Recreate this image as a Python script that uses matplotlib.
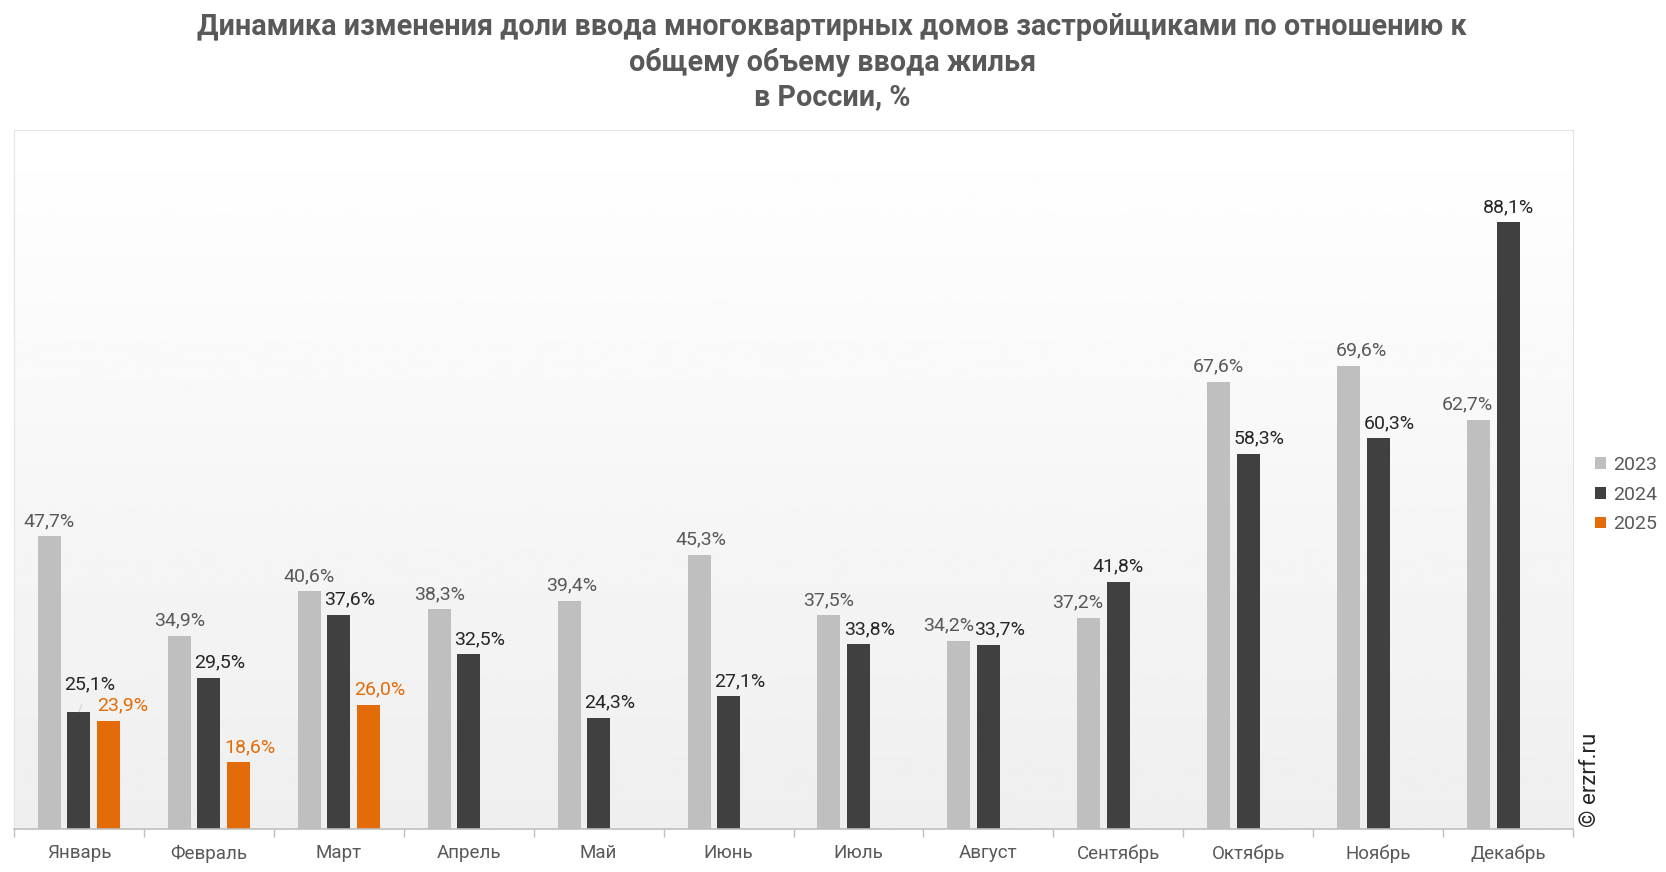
import numpy as np
import matplotlib

matplotlib.use("Agg")
import matplotlib.pyplot as plt

months = ["Январь", "Февраль", "Март", "Апрель", "Май", "Июнь",
          "Июль", "Август", "Сентябрь", "Октябрь", "Ноябрь", "Декабрь"]
share_2023 = [47.7, 34.9, 40.6, 38.3, 39.4, 45.3, 37.5, 34.2, 37.2, 67.6, 69.6, 62.7]
share_2024 = [25.1, 29.5, 37.6, 32.5, 24.3, 27.1, 33.8, 33.7, 41.8, 58.3, 60.3, 88.1]
share_2025 = [23.9, 18.6, 26.0]
years = ["2023", "2024", "2025"]

colors = ["#bfbfbf", "#404040", "#e36c09"]
label_colors = ["#595959", "#262626", "#e36c09"]
# horizontal nudge of data labels (points), as placed in the original
dx_2023 = [0, 0, 0, 0, 2, 1, 0, -7, -8, 0, 9, -8]
dx_2024 = [8, 8, 8, 8, 8, 8, 8, 8, 0, 8, 8, 0]
dx_2025 = [10, 8, 8]

plt.rcParams["font.family"] = ["Roboto", "DejaVu Sans"]

fig = plt.figure(figsize=(16.66, 8.72), dpi=100)
ax = fig.add_axes([0.0084, 0.0493, 0.9358, 0.8016])

# soft vertical gradient in the plot area
grad = np.linspace(1.0, 0.935, 256).reshape(-1, 1)
ax.imshow(grad, cmap="gray", vmin=0, vmax=1, aspect="auto",
          extent=[0, 1, 0, 1], transform=ax.transAxes, zorder=0)

x = np.arange(len(months))
step = 0.227
width = 0.177
series = [share_2023, share_2024, share_2025]
offsets = [dx_2023, dx_2024, dx_2025]
for i, (vals, col, lcol, dxs) in enumerate(zip(series, colors, label_colors, offsets)):
    xs = x[:len(vals)] + (i - 1) * step
    ax.bar(xs, vals, width=width, color=col, zorder=2, label=years[i])
    for j, (xv, v) in enumerate(zip(xs, vals)):
        txt = f"{v:.1f}%".replace(".", ",")
        if i == 1 and j == 0:
            ax.annotate(txt, (xv, v), xytext=(8, 20), textcoords="offset points",
                        ha="center", va="center", fontsize=14, color=lcol,
                        arrowprops=dict(arrowstyle="-", color="#d0d0d0", lw=0.8,
                                        shrinkA=7, shrinkB=0))
        else:
            ax.annotate(txt, (xv, v), xytext=(dxs[j], 11), textcoords="offset points",
                        ha="center", va="center", fontsize=14, color=lcol)

ax.set_xlim(-0.5, len(months) - 0.5)
ax.set_ylim(10, 100)
ax.set_yticks([])
ax.set_xticks(x)
ax.set_xticklabels(months, fontsize=13.5, color="#595959")
ax.set_xticks(np.arange(len(months) + 1) - 0.5, minor=True)
ax.tick_params(axis="x", which="major", length=0, pad=11)
ax.tick_params(axis="x", which="minor", length=6, color="#bfbfbf", width=1)

for side in ["top", "left", "right"]:
    ax.spines[side].set_color("#e4e4e4")
ax.spines["bottom"].set_color("#bfbfbf")
ax.spines["bottom"].set_linewidth(1.2)

leg = fig.legend(loc="upper left", bbox_to_anchor=(0.947, 0.497), frameon=False,
                 fontsize=14, handlelength=0.55, handleheight=0.55,
                 handletextpad=0.35, labelspacing=0.6)
for t in leg.get_texts():
    t.set_color("#595959")

fig.text(0.9545, 0.052, "© erzrf.ru", rotation=90, ha="center", va="bottom",
         fontsize=16, color="#262626")

fig.text(0.4995, 0.985, "Динамика изменения доли ввода многоквартирных домов застройщиками по отношению к\n"
         "общему объему ввода жилья\nв России, %",
         ha="center", va="top", fontsize=20.7, fontweight="bold", color="#595959",
         linespacing=1.3)

fig.savefig("out.png", dpi=100)
